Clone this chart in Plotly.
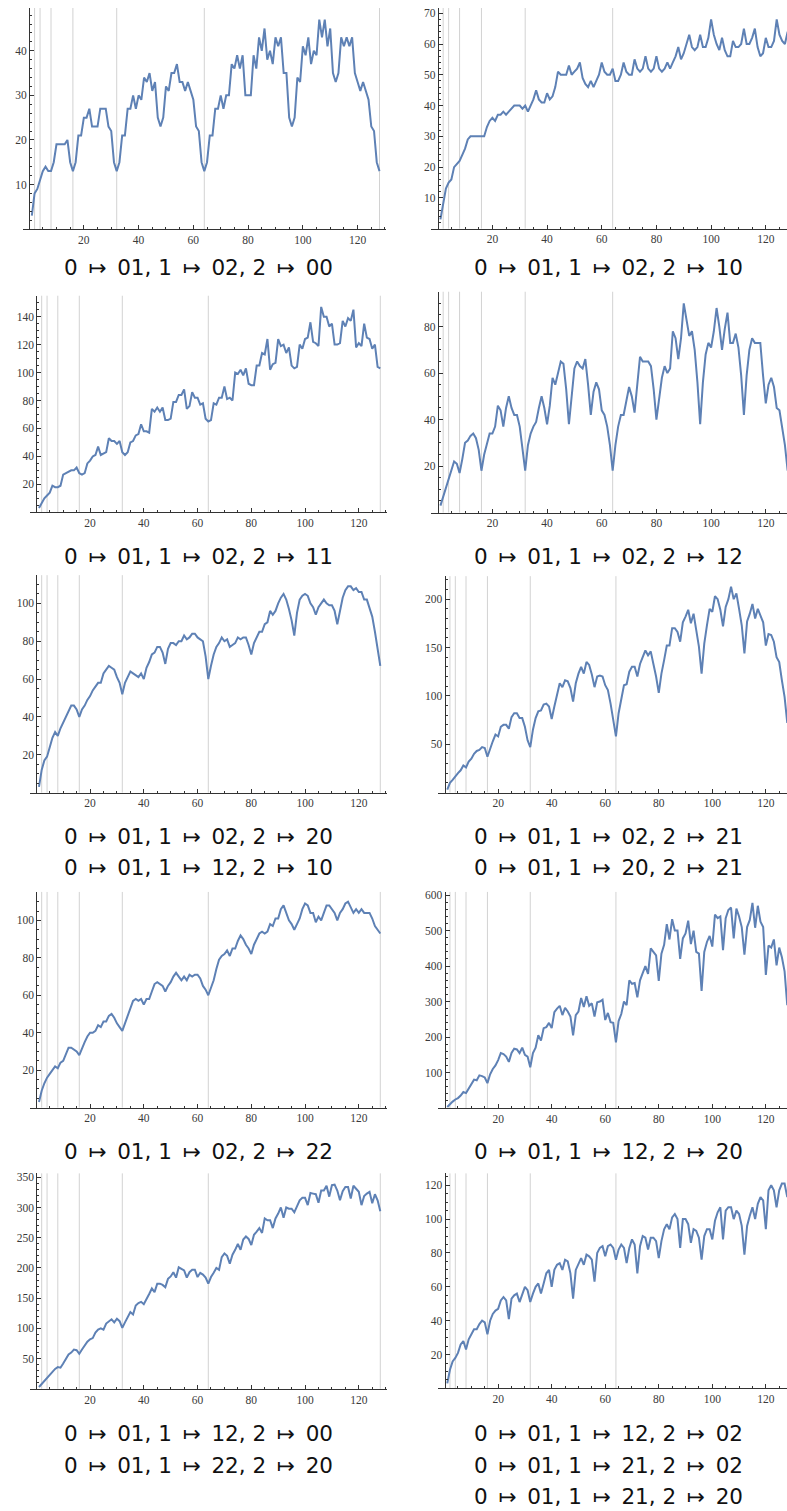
import plotly.graph_objects as go

# ---------------- data ----------------
N = list(range(1, 129))
X_TICKS = [20, 40, 60, 80, 100, 120]
GRID_X = [2, 4, 8, 16, 32, 64, 128]

s_01_02_00 = [3,8,9,11,13,14,13,13,15,19,19,19,19,20,15,13,
 15,21,21,25,25,27,23,23,23,27,27,27,23,22,15,13,
 15,21,21,27,27,30,27,30,29,34,33,35,31,33,25,23,
 25,32,31,35,35,37,33,33,31,33,31,29,23,22,15,13,
 15,21,21,27,27,30,27,30,30,37,36,39,36,39,30,30,
 30,39,36,43,40,45,38,40,37,43,41,43,35,35,25,23,
 25,34,33,41,39,43,37,40,39,47,43,47,41,45,35,33,
 35,43,41,43,41,43,35,33,31,33,31,29,23,22,15,13]

s_01_02_10 = [3,8,13,15,16,20,21,22,24,26,29,30,30,30,30,30,
 30,33,35,36,35,37,37,38,37,38,39,40,40,40,39,40,
 38,40,42,45,42,41,41,44,42,43,46,51,50,50,50,53,
 50,51,52,54,49,47,46,48,46,48,50,54,51,50,50,52,
 48,48,50,54,51,50,50,55,52,51,52,56,52,51,52,56,
 52,51,52,54,52,54,56,59,55,57,60,63,59,58,59,63,
 59,59,62,68,63,60,58,62,58,56,56,61,59,59,60,65,
 60,60,62,65,59,56,57,62,59,59,61,68,63,61,60,64]

s_01_02_11 = [3,7,10,12,14,19,18,18,19,27,28,29,30,30,32,28,
 27,28,35,37,40,41,47,41,42,43,53,51,51,49,51,43,
 41,43,50,51,55,56,63,58,58,57,74,72,75,72,75,66,
 66,67,79,79,84,84,88,74,76,86,82,82,77,78,67,65,
 66,78,77,82,82,90,81,82,80,100,99,102,98,103,92,91,
 91,105,105,114,113,124,102,106,107,124,119,120,114,118,105,103,
 104,120,117,124,125,136,122,121,119,147,140,140,133,135,120,120,
 121,137,133,139,137,145,118,121,119,135,125,124,117,120,104,103]

s_01_02_12 = [3,7,11,14,18,22,21,17,23,30,31,33,34,32,27,18,
 25,30,34,34,37,46,44,37,45,50,45,42,42,37,28,18,
 29,34,37,39,45,50,45,38,46,58,55,60,65,64,53,38,
 50,62,65,63,62,66,55,42,52,56,53,44,42,37,29,18,
 29,37,42,42,48,54,50,43,55,67,65,65,65,63,53,40,
 50,58,63,60,62,78,75,66,75,90,83,76,78,70,56,38,
 56,68,73,71,78,88,80,70,79,86,73,73,77,71,59,42,
 59,70,75,73,73,73,59,47,55,58,54,45,44,37,29,18]

s_01_02_20 = [3,12,17,19,24,29,32,30,34,37,40,43,46,46,44,40,
 44,46,49,51,54,56,58,58,63,65,67,66,65,61,58,52,
 58,61,64,63,62,61,63,60,66,69,73,74,77,77,74,68,
 76,79,79,78,80,80,83,81,82,84,84,82,81,80,72,60,
 67,73,77,79,82,80,81,77,78,79,82,81,82,82,78,73,
 79,82,85,85,89,90,96,94,96,100,103,105,102,97,91,83,
 95,102,104,105,104,100,98,94,98,100,102,100,99,99,96,89,
 97,103,107,109,109,107,108,106,106,102,102,98,93,85,77,67]

s_01_02_21 = [3,10,13,17,20,23,28,26,32,35,40,43,44,47,46,37,
 46,53,60,58,68,70,70,66,78,82,82,77,77,68,54,47,
 65,77,84,85,91,92,89,76,89,101,113,109,116,115,108,94,
 113,123,130,123,135,132,122,109,120,121,120,111,106,92,75,58,
 82,97,111,112,125,130,130,120,133,140,147,142,146,133,120,103,
 123,137,152,152,170,170,166,156,176,182,189,175,185,168,151,123,
 154,173,190,187,203,200,189,172,192,200,213,200,206,190,173,144,
 177,185,195,180,190,183,176,152,164,163,156,140,135,116,99,72]

s_01_02_22 = [3,9,13,16,18,20,22,21,24,25,29,32,32,31,30,28,
 32,35,38,40,40,41,44,43,46,46,49,50,48,45,43,41,
 45,49,54,57,58,57,58,55,58,58,62,66,67,66,65,62,
 65,67,70,72,70,68,70,68,71,70,71,71,69,65,63,60,
 64,68,74,79,81,82,84,81,85,85,89,92,90,87,85,82,
 87,90,93,94,93,94,98,97,101,101,106,108,104,100,98,95,
 98,101,106,109,108,104,104,99,102,100,104,108,108,106,104,100,
 104,106,109,110,107,104,106,104,106,104,104,104,101,97,95,93]

s_01_12_20 = [3,12,18,24,28,35,45,42,55,70,80,78,92,90,86,70,
 95,110,120,135,155,152,145,130,155,167,165,155,170,150,145,115,
 155,170,205,190,225,228,240,225,270,280,288,262,282,272,258,205,
 262,272,310,285,315,288,295,258,298,300,305,248,268,242,240,185,
 245,265,300,290,360,350,352,312,360,380,400,378,450,440,430,358,
 435,460,518,475,532,500,500,420,478,492,528,462,500,440,435,330,
 440,468,485,455,545,535,540,445,535,558,565,478,562,540,510,432,
 510,530,578,508,570,525,510,375,458,452,475,402,452,425,385,290]

s_01_12_00 = [3,8,13,18,22,28,33,36,35,42,50,57,60,65,64,58,
 65,72,78,82,84,93,98,100,98,108,112,115,110,116,112,101,
 110,118,127,123,138,142,144,140,150,157,166,160,174,174,172,168,
 182,186,193,184,201,199,196,184,193,197,197,185,192,189,184,174,
 185,192,200,197,218,224,220,207,222,230,240,230,247,252,248,238,
 255,260,266,258,282,279,279,266,282,290,300,283,300,298,298,292,
 303,312,316,316,304,324,323,322,308,328,328,336,318,337,338,328,
 312,327,334,334,315,336,331,326,304,319,323,326,307,322,312,294]

s_01_12_02 = [3,11,16,18,21,26,28,23,29,32,35,35,38,40,39,32,
 40,44,46,47,52,54,52,41,53,55,56,51,55,60,58,51,
 56,60,62,56,62,68,70,60,70,73,74,70,76,75,68,53,
 70,74,77,73,79,78,76,63,80,83,84,78,84,85,83,76,
 82,85,83,74,83,88,85,68,84,90,89,82,89,89,87,77,
 87,94,97,94,101,103,100,83,100,100,97,86,94,93,89,76,
 90,94,94,88,99,104,107,88,105,107,107,100,105,103,96,79,
 96,102,107,100,109,113,111,94,117,120,117,107,117,121,121,113]

SERIES = [s_01_02_00, s_01_02_10, s_01_02_11, s_01_02_12, s_01_02_20,
          s_01_02_21, s_01_02_22, s_01_12_20, s_01_12_00, s_01_12_02]

CAPTIONS = [
    ["0 ↦ 01, 1 ↦ 02, 2 ↦ 00"],
    ["0 ↦ 01, 1 ↦ 02, 2 ↦ 10"],
    ["0 ↦ 01, 1 ↦ 02, 2 ↦ 11"],
    ["0 ↦ 01, 1 ↦ 02, 2 ↦ 12"],
    ["0 ↦ 01, 1 ↦ 02, 2 ↦ 20", "0 ↦ 01, 1 ↦ 12, 2 ↦ 10"],
    ["0 ↦ 01, 1 ↦ 02, 2 ↦ 21", "0 ↦ 01, 1 ↦ 20, 2 ↦ 21"],
    ["0 ↦ 01, 1 ↦ 02, 2 ↦ 22"],
    ["0 ↦ 01, 1 ↦ 12, 2 ↦ 20"],
    ["0 ↦ 01, 1 ↦ 12, 2 ↦ 00", "0 ↦ 01, 1 ↦ 22, 2 ↦ 20"],
    ["0 ↦ 01, 1 ↦ 12, 2 ↦ 02", "0 ↦ 01, 1 ↦ 21, 2 ↦ 02", "0 ↦ 01, 1 ↦ 21, 2 ↦ 20"],
]

Y_TICKS = [
    [10, 20, 30, 40],
    [10, 20, 30, 40, 50, 60, 70],
    [20, 40, 60, 80, 100, 120, 140],
    [20, 40, 60, 80],
    [20, 40, 60, 80, 100],
    [50, 100, 150, 200],
    [20, 40, 60, 80, 100],
    [100, 200, 300, 400, 500, 600],
    [50, 100, 150, 200, 250, 300, 350],
    [20, 40, 60, 80, 100, 120],
]

# ---------------- layout (pixel geometry) ----------------
W, H = 787, 1511
XMIN = -2.3
Y_MINOR = [2, 2, 5, 5, 5, 10, 5, 20, 10, 5]
GEOM = [
    dict(x0=29.1, sx=2.7375, right=386.3, y0=226.5, top=5.0, ymax=49.6),
    dict(x0=437.7, sx=2.734, right=787.0, y0=226.1, top=5.0, ymax=71.7),
    dict(x0=36.3, sx=2.6875, right=387.0, y0=510.3, top=293.3, ymax=155.0),
    dict(x0=437.7, sx=2.734, right=787.0, y0=510.6, top=289.3, ymax=95.0),
    dict(x0=36.3, sx=2.6875, right=387.0, y0=791.2, top=573.3, ymax=114.9),
    dict(x0=444.6, sx=2.677, right=787.0, y0=791.1, top=574.3, ymax=223.8),
    dict(x0=36.3, sx=2.6875, right=387.0, y0=1106.8, top=890.7, ymax=115.2),
    dict(x0=444.6, sx=2.677, right=787.0, y0=1107.2, top=890.7, ymax=609.0),
    dict(x0=36.3, sx=2.6875, right=387.0, y0=1388.6, top=1172.7, ymax=356.5),
    dict(x0=444.6, sx=2.677, right=787.0, y0=1388.2, top=1172.7, ymax=127.0),
]
CAP_X = [198, 608] * 5
CAP_Y = [265, 265, 555, 555, 835, 835, 1151, 1151, 1433.5, 1433.5]
CAP_GAP = 31.5

LINE = "#5E81B5"
AX = "#333333"
GRID = "#d2d2d2"
TF = dict(family="Liberation Serif", size=11.5, color="#3a3a3a")
CF = dict(family="DejaVu Sans", size=21.5, color="#111111")

fig = go.Figure()
annotations = []
shapes = []
for i, (ys, g) in enumerate(zip(SERIES, GEOM)):
    k = i + 1
    sfx = "" if k == 1 else str(k)
    left = g["x0"] + XMIN * g["sx"]
    xmax = (g["right"] - g["x0"]) / g["sx"]
    xdom = [max(0, left / W), min(1, g["right"] / W)]
    ydom = [1 - g["y0"] / H, 1 - g["top"] / H]
    fig.add_trace(go.Scatter(x=N, y=ys, mode="lines",
                             line=dict(color=LINE, width=2),
                             xaxis="x" + sfx, yaxis="y" + sfx,
                             hoverinfo="skip", showlegend=False))
    xminor = [v for v in range(5, int(xmax) + 1, 5) if v % 20]
    ystep = Y_TICKS[i][1] - Y_TICKS[i][0]
    m = Y_MINOR[i]
    yminor = [v * m for v in range(1, int(g["ymax"] / m) + 1) if (v * m) % ystep]
    fig.layout["xaxis" + sfx] = dict(
        domain=xdom, range=[XMIN, xmax], anchor="y" + sfx,
        showline=True, linecolor=AX, linewidth=1,
        ticks="inside", ticklen=4, tickwidth=1, tickcolor=AX,
        tickmode="array", tickvals=X_TICKS, ticktext=[str(v) for v in X_TICKS],
        minor=dict(ticks="inside", ticklen=2, tickwidth=1, tickcolor=AX,
                   tickmode="array", tickvals=xminor, showgrid=False),
        showgrid=False, zeroline=False, tickfont=TF, fixedrange=True)
    fig.layout["yaxis" + sfx] = dict(
        domain=ydom, range=[0, g["ymax"]], anchor="free", position=g["x0"] / W,
        showline=True, linecolor=AX, linewidth=1,
        ticks="inside", ticklen=4, tickwidth=1, tickcolor=AX,
        tickmode="array", tickvals=Y_TICKS[i], ticktext=[str(v) for v in Y_TICKS[i]],
        minor=dict(ticks="inside", ticklen=2, tickwidth=1, tickcolor=AX,
                   tickmode="array", tickvals=yminor, showgrid=False),
        showgrid=False, zeroline=False, tickfont=TF, fixedrange=True)
    for gx in GRID_X:
        if gx <= xmax:
            shapes.append(dict(type="line", xref="x" + sfx, yref="y" + sfx + " domain",
                               x0=gx, x1=gx, y0=0, y1=1,
                               line=dict(color=GRID, width=1), layer="below"))
    for j, cap in enumerate(CAPTIONS[i]):
        txt = cap.replace(" ↦ ", "\u2002↦\u2002")
        annotations.append(dict(text=txt, xref="paper", yref="paper",
                                x=CAP_X[i] / W, y=1 - (CAP_Y[i] + j * CAP_GAP) / H,
                                xanchor="center", yanchor="middle",
                                showarrow=False, font=CF))

fig.update_layout(width=W, height=H, margin=dict(l=0, r=0, t=0, b=0),
                  paper_bgcolor="white", plot_bgcolor="white",
                  annotations=annotations, shapes=shapes, showlegend=False)

fig.write_html("out.html",
               config={"displayModeBar": False, "staticPlot": True},
               post_script="document.body.style.margin='0';document.body.style.overflow='hidden';")
